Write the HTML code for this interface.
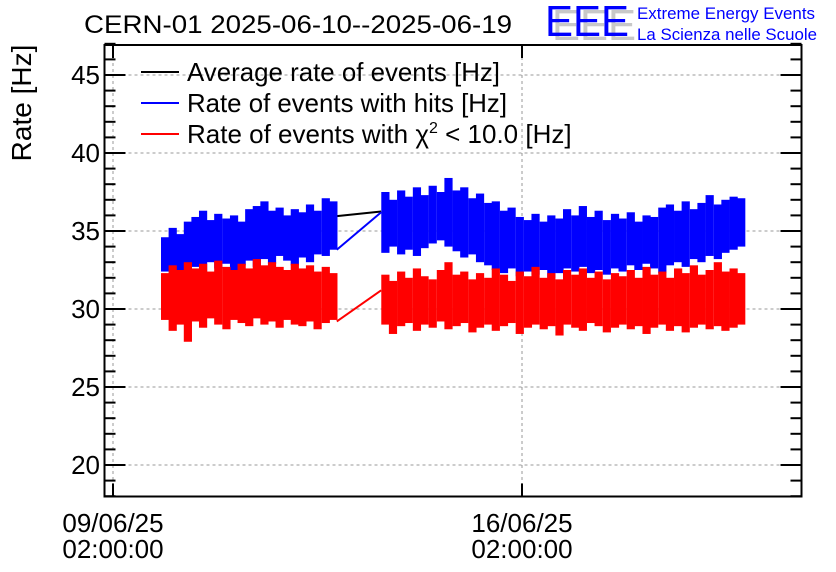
<!DOCTYPE html>
<html><head><meta charset="utf-8"><style>
body{margin:0;background:#fff;}
svg{display:block;font-family:"Liberation Sans",sans-serif;}
</style></head><body>
<svg id="chart" width="836" height="572" viewBox="0 0 836 572">
<rect x="0" y="0" width="836" height="572" fill="#fff"/>
<g id="grid"></g>
<g id="series"></g>
<rect x="104.5" y="45" width="697" height="451.5" fill="none" stroke="#000" stroke-width="2"/>
<g id="axes"></g>
<text x="84" y="33" font-size="25" textLength="428" lengthAdjust="spacingAndGlyphs">CERN-01 2025-06-10--2025-06-19</text>
<text transform="translate(31,103) rotate(-90)" text-anchor="middle" font-size="28">Rate [Hz]</text>
<g>
<text x="552" y="40" font-size="44" fill="#c8c8c8" textLength="84" lengthAdjust="spacingAndGlyphs">EEE</text>
<text x="545" y="36" font-size="44" fill="#0000ff" textLength="84" lengthAdjust="spacingAndGlyphs">EEE</text>
<text x="637" y="19" font-size="17" fill="#0000ff" textLength="178" lengthAdjust="spacingAndGlyphs">Extreme Energy Events</text>
<text x="637" y="40" font-size="17" fill="#0000ff" textLength="180" lengthAdjust="spacingAndGlyphs">La Scienza nelle Scuole</text>
</g>
<g>
<line x1="141" y1="72" x2="179" y2="72" stroke="#000" stroke-width="2"/>
<text x="187" y="81" font-size="26" textLength="313" lengthAdjust="spacingAndGlyphs">Average rate of events [Hz]</text>
<line x1="141" y1="103" x2="179" y2="103" stroke="#0000ff" stroke-width="2"/>
<text x="187" y="112" font-size="26" textLength="320" lengthAdjust="spacingAndGlyphs">Rate of events with hits [Hz]</text>
<line x1="141" y1="134" x2="179" y2="134" stroke="#0000ff" stroke-width="0"/>
<line x1="141" y1="134" x2="179" y2="134" stroke="#ff0000" stroke-width="2"/>
<text x="187" y="143" font-size="26">Rate of events with χ<tspan font-size="16" dy="-10">2</tspan><tspan dy="10"> &lt; 10.0 [Hz]</tspan></text>
</g>
</svg>
<script>
// time in days since 09/06/25 02:00:00
const seg1Times=[0.89,1.02,1.15,1.28,1.41,1.54,1.67,1.80,1.94,2.07,2.20,2.33,2.46,2.59,2.72,2.85,2.98,3.11,3.24,3.37,3.50,3.64,3.77];
const seg1BlueHi=[34.6,35.2,34.8,35.6,35.9,36.3,35.7,36.1,35.8,36.0,35.6,36.4,36.6,36.9,36.3,36.5,36.0,36.4,36.2,36.7,36.3,37.1,36.9];
const seg1BlueLo=[32.4,32.6,32.3,32.9,32.7,32.4,33.0,32.6,32.9,32.5,32.8,33.1,32.7,33.2,32.9,33.4,33.1,32.8,33.3,33.0,33.5,33.4,33.8];
const seg1RedHi=[32.3,32.8,32.5,33.0,32.6,32.9,32.4,33.1,32.7,32.5,32.9,32.6,33.2,32.8,33.0,32.7,32.5,32.9,32.6,32.8,32.4,32.7,32.3];
const seg1RedLo=[29.3,28.6,29.0,27.9,29.2,28.8,29.4,29.0,28.7,29.3,29.1,28.9,29.4,29.0,29.2,28.8,29.3,29.0,28.9,29.2,28.7,29.1,29.3];
const seg2Times=[4.66,4.79,4.93,5.06,5.20,5.33,5.47,5.61,5.74,5.88,6.01,6.15,6.28,6.42,6.55,6.69,6.82,6.96,7.10,7.23,7.37,7.50,7.64,7.77,7.91,8.04,8.18,8.31,8.45,8.59,8.72,8.86,8.99,9.13,9.26,9.40,9.53,9.67,9.80,9.94,10.07,10.21,10.35,10.48,10.62,10.75];
const seg2BlueHi=[37.5,37.0,37.6,37.2,37.8,37.3,37.9,37.5,38.4,37.6,37.8,37.1,37.4,36.8,36.9,36.3,36.5,35.9,35.7,36.1,35.6,36.0,35.8,36.4,36.0,36.6,35.9,36.3,35.7,36.1,35.8,36.2,35.6,36.0,35.9,36.5,36.7,36.3,36.9,36.4,36.8,37.3,36.7,37.0,37.2,37.1];
const seg2BlueLo=[33.6,34.0,33.5,33.8,33.4,33.9,34.2,34.4,34.0,33.7,33.3,33.5,33.0,32.8,32.5,32.3,32.6,32.1,32.4,32.2,32.5,32.0,32.3,32.6,32.4,32.7,32.3,32.5,32.2,32.6,32.4,32.8,32.5,32.9,32.6,32.3,32.8,33.0,32.7,33.2,33.0,33.4,33.2,33.6,33.8,34.0];
const seg2RedHi=[32.2,31.8,32.4,32.0,32.6,32.1,31.9,32.5,33.0,32.2,32.4,31.9,32.3,32.0,32.6,32.2,31.8,32.4,32.1,32.7,32.0,32.3,31.9,32.5,32.2,32.6,32.0,32.4,31.9,32.3,32.1,32.5,32.0,32.7,32.2,32.4,32.0,32.6,32.3,32.8,32.2,32.5,33.0,32.4,32.6,32.3];
const seg2RedLo=[29.0,28.4,28.9,29.1,28.6,29.0,28.8,29.2,28.7,28.9,29.1,28.5,28.8,29.0,28.6,28.9,29.1,28.4,28.8,29.0,28.7,28.9,28.3,29.0,28.8,28.6,29.1,28.9,28.5,28.8,29.0,28.7,28.9,28.4,28.8,29.0,28.6,28.9,28.5,28.8,29.0,28.7,28.9,28.6,28.8,29.0];
const gapTimes=[3.83,4.59];
const gapBlack=[35.95,36.25];
const gapBlue=[33.8,36.2];
const gapRed=[29.2,31.2];
const yTicks=[20,25,30,35,40,45];
const xTickTimes=[0,7];
const xTickLabels=[["09/06/25","02:00:00"],["16/06/25","02:00:00"]];

const NS="http://www.w3.org/2000/svg";
const X0=104.5,X1=801.5,Y0=45,Y1=496.5;
function xs(t){return 113+t*58.43;}
function ys(v){return 465-(v-20)*15.6;}
function mk(tag,attrs,parent){const e=document.createElementNS(NS,tag);for(const k in attrs)e.setAttribute(k,attrs[k]);parent.appendChild(e);return e;}
const grid=document.getElementById('grid'),series=document.getElementById('series'),axes=document.getElementById('axes');

yTicks.forEach(v=>{
  const l=mk('line',{x1:X0,x2:X1,y1:ys(v),y2:ys(v),stroke:'#999','stroke-dasharray':'3,3','stroke-width':1},grid);
  
  
  const lab=mk('text',{x:100,y:ys(v)+9,'text-anchor':'end','font-size':26},axes);
  lab.textContent=v;
  
  
});
xTickTimes.forEach((t,i)=>{
  const l=mk('line',{x1:xs(t),x2:xs(t),y1:Y0,y2:Y1,stroke:'#999','stroke-dasharray':'3,3','stroke-width':1},grid);
  
  
  const tk=mk('line',{x1:xs(t),x2:xs(t),y1:Y1,y2:Y1-13,stroke:'#000','stroke-width':2},axes);
  
  
  const tk2=mk('line',{x1:xs(t),x2:xs(t),y1:Y0,y2:Y0+13,stroke:'#000','stroke-width':2},axes);
  
  
  const lab=mk('text',{x:xs(t),y:532,'text-anchor':'middle','font-size':26},axes);
  lab.textContent=xTickLabels[i][0];
  
  
  const lab2=mk('text',{x:xs(t),y:558,'text-anchor':'middle','font-size':26},axes);
  lab2.textContent=xTickLabels[i][1];
  
  
});
for(let v=18;v<=47;v++){
  const major=(v%5===0);const len=major?21:11;
  const a=mk('line',{x1:X0,x2:X0+len,y1:ys(v),y2:ys(v),stroke:'#000','stroke-width':2},axes);
  
  
  const b=mk('line',{x1:X1,x2:X1-len,y1:ys(v),y2:ys(v),stroke:'#000','stroke-width':2},axes);
  
  
}
function band(times,lo,hi,color,name){
  const g=mk('g',{},series);
  
  
  times.forEach((t,i)=>{
    const r=mk('rect',{x:xs(t)-4,width:8.2,y:ys(hi[i]),height:ys(lo[i])-ys(hi[i]),fill:color},g);
    
    
  });
}
function line(times,vals,color,name){
  const p=mk('polyline',{points:times.map((t,i)=>xs(t)+','+ys(vals[i])).join(' '),fill:'none',stroke:color,'stroke-width':2},series);
  
  
}
line(gapTimes,gapBlack,'#000','average-gap-line');
band(seg1Times,seg1BlueLo,seg1BlueHi,'#0000ff','hits-band-1');
band(seg2Times,seg2BlueLo,seg2BlueHi,'#0000ff','hits-band-2');
line(gapTimes,gapBlue,'#0000ff','hits-gap-line');
band(seg1Times,seg1RedLo,seg1RedHi,'#ff0000','chi2-band-1');
band(seg2Times,seg2RedLo,seg2RedHi,'#ff0000','chi2-band-2');
line(gapTimes,gapRed,'#ff0000','chi2-gap-line');
</script>
</body></html>
